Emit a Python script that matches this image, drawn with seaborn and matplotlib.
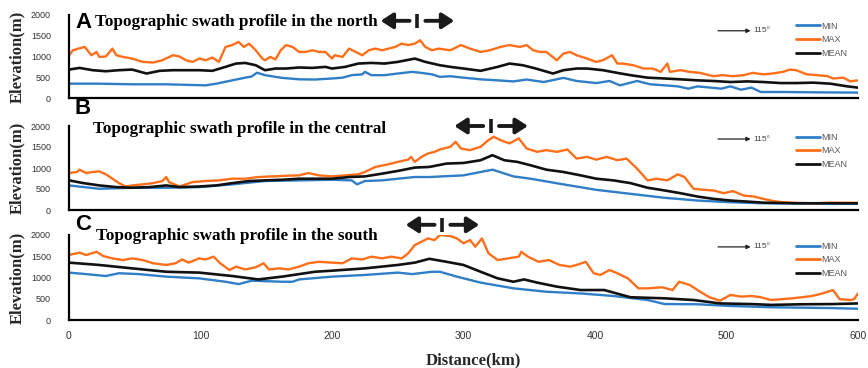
import matplotlib
matplotlib.use("Agg")
import matplotlib.pyplot as plt
import seaborn as sns

# ---------------- data ----------------
A_MAX_KM = [0,3,7,12,14,17,21,23,28,33,36,41,48,56,64,71,79,84,89,94,99,104,109,114,119,124,129,133,137,142,147,149,153,157,161,165,170,175,180,185,190,195,200,202,208,213,218,223,228,233,238,243,248,253,258,263,267,271,276,281,290,298,305,313,320,328,335,343,348,353,358,363,371,376,381,386,394,401,406,413,417,421,429,437,444,450,455,457,465,472,480,490,497,505,513,520,528,535,543,548,553,561,569,577,581,589,594,600]
A_MAX = [1030,1150,1190,1230,1150,1030,1110,990,1000,1190,1030,990,950,870,855,910,1030,1000,910,870,950,910,975,870,1230,1275,1350,1230,1310,1150,950,910,990,930,1150,1275,1230,1110,1110,1150,1110,1110,950,1030,990,1190,1110,1030,1150,1190,1150,1190,1230,1310,1275,1310,1390,1230,1150,1190,1150,1275,1190,1110,1150,1230,1275,1230,1275,1150,1110,1110,910,1070,1110,1030,950,870,910,1030,830,830,790,710,710,630,830,630,670,630,605,525,550,525,550,605,570,590,630,685,670,570,550,525,470,490,400,425]
A_MEAN_KM = [0,8,18,28,38,48,59,69,79,89,99,109,119,127,134,142,149,157,165,175,185,195,200,210,220,230,240,250,263,271,282,290,300,313,326,335,345,355,368,376,386,394,406,417,427,440,453,465,478,490,503,516,528,541,553,566,579,592,600]
A_MEAN = [685,725,670,645,670,685,590,655,670,670,670,655,750,830,845,790,670,710,710,735,725,750,710,750,830,845,830,870,950,870,790,750,710,655,750,830,790,710,590,670,710,710,670,605,550,490,470,450,425,410,385,400,385,360,360,370,345,280,250]
A_MIN_KM = [0,23,48,74,104,112,124,134,139,143,149,162,175,187,200,208,215,223,225,230,240,250,261,268,276,282,290,300,313,326,338,348,361,376,386,401,411,419,432,442,453,463,471,478,488,496,503,511,519,526,541,566,600]
A_MIN = [345,345,330,330,305,345,425,490,520,610,550,485,450,445,470,490,550,570,630,550,550,590,630,605,570,510,525,490,450,425,400,445,385,485,410,360,410,305,410,330,305,280,225,280,250,225,280,200,250,145,145,137,130]

B_MAX_KM = [0,6,8,13,18,23,28,33,38,43,48,56,64,71,74,76,84,94,104,114,124,134,144,155,165,175,182,190,200,210,220,225,233,243,250,258,260,263,268,273,278,282,290,294,298,305,313,319,323,328,335,342,348,356,363,371,379,386,394,401,409,417,424,432,440,447,455,463,468,475,483,490,498,505,513,521,528,536,543,553,566,579,600]
B_MAX = [880,905,960,880,905,920,850,745,640,560,585,610,640,690,785,665,560,665,690,705,745,745,785,800,815,825,880,825,800,825,850,905,1025,1090,1145,1200,1265,1145,1265,1345,1385,1440,1505,1625,1465,1425,1505,1665,1745,1665,1585,1705,1465,1385,1425,1385,1440,1225,1265,1200,1265,1185,1225,985,705,745,705,850,785,505,480,465,400,450,345,320,265,210,185,170,160,175,170]
B_MEAN_KM = [0,11,23,36,48,61,74,84,99,112,124,137,149,162,175,187,200,213,225,238,250,263,274,287,300,313,322,331,341,351,363,376,389,401,414,427,440,453,465,478,490,503,516,528,553,600]
B_MEAN = [705,640,585,545,530,545,585,545,560,585,640,690,705,720,745,745,745,785,800,865,930,1010,1025,1105,1120,1185,1305,1185,1145,1065,960,905,825,745,705,640,530,465,400,320,265,225,200,175,160,160]
B_MIN_KM = [0,23,48,74,99,124,149,175,200,215,219,225,238,250,263,274,300,322,338,351,376,401,427,453,478,503,528,600]
B_MIN = [585,505,530,530,545,610,690,705,720,705,610,690,705,745,785,785,825,960,800,745,610,480,385,290,225,185,160,145]

C_MAX_KM = [0,8,13,21,26,33,41,48,56,64,74,81,86,91,99,104,110,115,122,127,134,142,148,152,160,167,175,182,190,200,208,215,223,230,238,245,253,258,263,268,273,278,282,290,295,300,305,309,314,319,326,334,342,344,349,357,365,373,381,386,393,399,404,411,417,425,433,440,451,459,464,472,480,487,495,503,511,519,526,534,542,550,557,565,573,581,586,594,597,600]
C_MAX = [1530,1585,1530,1605,1505,1450,1410,1450,1410,1335,1295,1335,1425,1350,1450,1425,1490,1335,1175,1255,1190,1240,1335,1190,1215,1190,1255,1335,1370,1350,1335,1450,1425,1490,1450,1490,1450,1570,1765,1840,1920,1880,2000,1975,1920,1805,1880,1725,1920,1570,1410,1450,1490,1605,1490,1370,1410,1295,1255,1295,1370,1100,1060,1175,1100,980,745,745,770,705,900,825,665,535,455,590,550,565,535,470,490,510,535,565,625,705,490,470,490,625]
C_MEAN_KM = [0,23,48,74,99,124,144,162,187,200,225,250,263,274,287,300,313,326,338,346,356,371,389,407,427,453,475,495,519,534,557,581,600]
C_MEAN = [1350,1295,1215,1135,1115,1035,955,1020,1135,1160,1215,1295,1350,1440,1370,1295,1135,980,900,955,880,785,705,705,535,510,470,390,375,355,370,375,390]
C_MIN_KM = [0,13,28,38,53,74,99,119,129,139,162,170,175,200,225,250,261,276,282,295,313,338,363,389,414,440,453,478,503,534,557,581,600]
C_MIN = [1115,1080,1035,1100,1080,1020,980,900,845,925,900,900,955,1020,1060,1115,1080,1135,1135,1020,880,745,665,625,565,470,375,370,330,300,290,280,265]

PANEL_LETTERS = ["A", "B", "C"]
PANEL_TITLES = ["Topographic swath profile in the north",
                "Topographic swath profile in the central",
                "Topographic swath profile in the south"]
ARROW_CENTER_KM = [265, 321, 284]
SERIES_NAMES = ["MIN", "MAX", "MEAN"]
X_TICKS = [0, 100, 200, 300, 400, 500, 600]
Y_TICKS = [0, 500, 1000, 1500, 2000]
DIRECTION_LABEL = "115°"

panels = [
    (A_MIN_KM, A_MIN, A_MAX_KM, A_MAX, A_MEAN_KM, A_MEAN),
    (B_MIN_KM, B_MIN, B_MAX_KM, B_MAX, B_MEAN_KM, B_MEAN),
    (C_MIN_KM, C_MIN, C_MAX_KM, C_MAX, C_MEAN_KM, C_MEAN),
]

# ---------------- style ----------------
sns.set_style("white")
plt.rcParams['font.family'] = ['Liberation Sans', 'DejaVu Sans']
BLUE = "#2f7ec7"
ORANGE = "#ff6f1a"
BLACK = "#111111"
SERIF = ['Liberation Serif', 'DejaVu Serif']

W, H = 868, 368
fig = plt.figure(figsize=(W / 100, H / 100), dpi=100)

boxes = [(15, 98), (126, 210), (235, 320)]
X0, X1 = 69, 858
arrow_y = [0.93, 1.0, 1.12]
dir_y = [0.81, 0.845, 0.86]
letter_y = [23, 109, 224]
title_y = [22, 129, 236]
title_x = [95, 93, 96]

for i, (mnk, mn, mxk, mx, mek, me) in enumerate(panels):
    top, bot = boxes[i]
    ax = fig.add_axes([X0 / W, 1 - bot / H, (X1 - X0) / W, (bot - top) / H])
    sns.lineplot(x=mnk, y=mn, ax=ax, color=BLUE, lw=1.7, label=SERIES_NAMES[0],
                 estimator=None, sort=False)
    sns.lineplot(x=mxk, y=mx, ax=ax, color=ORANGE, lw=1.7, label=SERIES_NAMES[1],
                 estimator=None, sort=False)
    sns.lineplot(x=mek, y=me, ax=ax, color=BLACK, lw=1.9, label=SERIES_NAMES[2],
                 estimator=None, sort=False)
    ax.set_xlim(0, 600)
    ax.set_ylim(0, 2000)
    ax.set_xticks(X_TICKS)
    ax.set_yticks(Y_TICKS)
    sns.despine(ax=ax)
    for s in ("left", "bottom"):
        ax.spines[s].set_linewidth(1.6)
        ax.spines[s].set_color("black")
    ax.tick_params(axis="x", direction="in", length=3.5, width=1.4, color="black",
                   labelsize=7.5, labelcolor="#333333", pad=8)
    ax.tick_params(axis="y", direction="in", length=3, width=1.2, color="black",
                   labelsize=6.5, labelcolor="#333333", pad=13)
    if i < 2:
        ax.set_xticklabels([])
    ax.set_xlabel("")
    ax.set_ylabel("Elevation(m)", fontfamily=SERIF, fontweight="bold", fontsize=12)
    ax.yaxis.set_label_coords(-0.056, 0.5)

    leg = ax.legend(loc="upper left", bbox_to_anchor=(0.922, 0.92), frameon=False,
                    fontsize=6.5, handlelength=2.6, handletextpad=0.2,
                    labelspacing=0.5, borderaxespad=0, borderpad=0)
    for t in leg.get_texts():
        t.set_color("#555555")
    for l in leg.get_lines():
        l.set_linewidth(2.0)

    # direction indicator "-> 115°"
    ax.annotate("", xy=(0.864, dir_y[i]), xytext=(0.8226, dir_y[i]),
                xycoords="axes fraction",
                arrowprops=dict(arrowstyle="-|>", lw=0.9, color="#222222",
                                mutation_scale=6, shrinkA=0, shrinkB=0))
    ax.text(0.867, dir_y[i], DIRECTION_LABEL, transform=ax.transAxes, fontsize=6,
            va="center", ha="left", color="#444444")

    # big "<- | ->" marker
    c = ARROW_CENTER_KM[i]
    trans = ax.get_xaxis_transform()
    ay = arrow_y[i]
    for d in (-1, 1):
        ax.annotate("", xy=(c + d * 28, ay), xytext=(c + d * 6, ay),
                    xycoords=trans, textcoords=trans, annotation_clip=False,
                    arrowprops=dict(arrowstyle="-|>,head_length=0.65,head_width=0.42",
                                    lw=2.8, color="#1a1a1a", mutation_scale=11,
                                    shrinkA=0, shrinkB=0))
    hh = 7 / (bot - top)
    ax.plot([c, c], [ay - hh, ay + hh], transform=trans, color="#1a1a1a", lw=2.6,
            clip_on=False, solid_capstyle="butt")

    fig.text(75 / W, 1 - letter_y[i] / H, PANEL_LETTERS[i], fontsize=16,
             fontweight="bold", ha="left", va="center", color="black",
             family=['Liberation Sans', 'DejaVu Sans'])
    fig.text(title_x[i] / W, 1 - title_y[i] / H, PANEL_TITLES[i], fontsize=12.3,
             fontweight="bold", ha="left", va="center", color="black", family=SERIF)

fig.text(473 / W, 1 - 360 / H, "Distance(km)", fontsize=12, fontweight="bold",
         ha="center", va="center", family=SERIF)

fig.savefig("out.png", dpi=100)
